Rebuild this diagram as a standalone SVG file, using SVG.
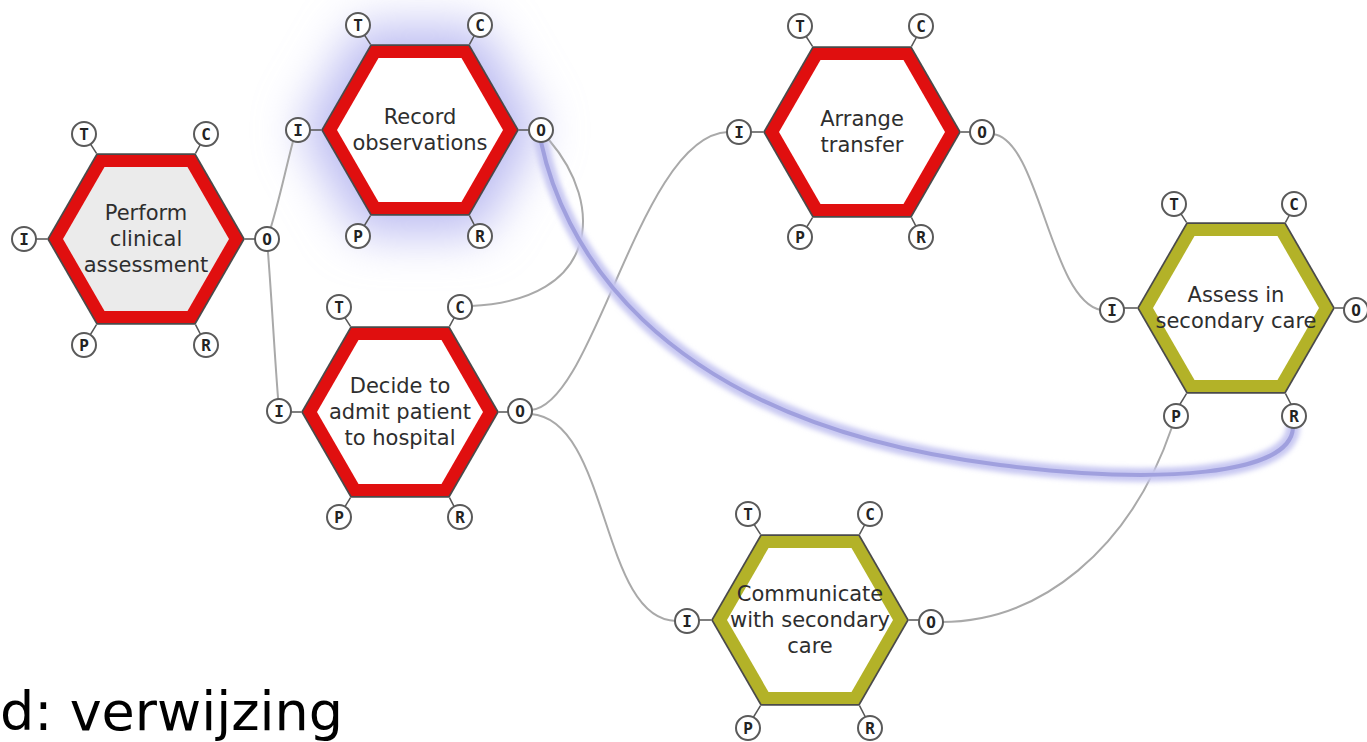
<svg xmlns="http://www.w3.org/2000/svg" xmlns:xlink="http://www.w3.org/1999/xlink" width="1367" height="742" viewBox="0 0 1367 742">
<style>
.hx-o{fill:#4a4a4a}
.hx-red{fill:#e00f0f}
.hx-olive{fill:#b3b228}
.hx-in{fill:#ffffff}
.hx-in-grey{fill:#ebebeb}
.lbl{font-family:"DejaVu Sans",sans-serif;font-size:21px;fill:#2e2e2e;text-anchor:middle}
.port circle{fill:#fff;stroke:#5a5a5a;stroke-width:2}
.port text{font-family:"DejaVu Sans Mono",monospace;font-size:16px;font-weight:bold;fill:#222;text-anchor:middle}
.stub{stroke:#555;stroke-width:1.5}
.conn{fill:none;stroke:#a9a9a9;stroke-width:2}
.blue-halo{fill:none;stroke:#c8c8f2;stroke-width:14;stroke-linecap:round}
.blue-core{fill:none;stroke:#a0a0de;stroke-width:4;stroke-linecap:round}
.caption{font-family:"DejaVu Sans",sans-serif;font-size:54px;fill:#000}
</style>
<defs>
<polygon id="hexO" points="99,0 49.5,85.7 -49.5,85.7 -99,0 -49.5,-85.7 49.5,-85.7"/>
<polygon id="hexM" points="97,0 48.5,84 -48.5,84 -97,0 -48.5,-84 48.5,-84"/>
<polygon id="hexI" points="83,0 41.5,71.9 -41.5,71.9 -83,0 -41.5,-71.9 41.5,-71.9"/>
<polygon id="hexG" points="120,0 60,104 -60,104 -120,0 -60,-104 60,-104"/>
<filter id="glow" x="-60%" y="-60%" width="220%" height="220%">
<feGaussianBlur stdDeviation="24"/>
</filter>
<filter id="soft" x="-10%" y="-10%" width="120%" height="120%">
<feGaussianBlur stdDeviation="2.5"/>
</filter>
<g id="stubs">
<line class="stub" x1="-62" y1="-105" x2="-49.5" y2="-85.7"/>
<line class="stub" x1="60" y1="-105" x2="49.5" y2="-85.7"/>
<line class="stub" x1="-122" y1="0" x2="-99" y2="0"/>
<line class="stub" x1="121" y1="0" x2="99" y2="0"/>
<line class="stub" x1="-62" y1="106" x2="-49.5" y2="85.7"/>
<line class="stub" x1="60" y1="106" x2="49.5" y2="85.7"/>
</g>
</defs>

<rect width="1367" height="742" fill="#ffffff"/>

<!-- glow behind Record observations -->
<use href="#hexG" x="420" y="130" fill="#bcbcf2" filter="url(#glow)"/>

<g id="connectors">
<path class="conn" d="M267,240 C280,200 285,170 296,130"/>
<path class="conn" d="M267,240 C272,300 274,350 279,410"/>
<path class="conn" d="M549,140 C605,205 600,300 471,306"/>
<path class="conn" d="M531,410 C595,405 640,135 728,132"/>
<path class="conn" d="M531,414 C610,420 600,620 676,621"/>
<path class="conn" d="M993,134 C1040,140 1050,300 1101,310"/>
<path class="conn" d="M941,622 C1040,622 1130,550 1172,427"/>
<g id="blue-link">
<path class="blue-halo" filter="url(#soft)" d="M541,142 C560,230 640,420 1000,465 C1160,485 1290,475 1293,428"/>
<path class="blue-core" d="M541,142 C560,230 640,420 1000,465 C1160,485 1290,475 1293,428"/>
</g>
</g>

<g id="node-perform">
<use href="#stubs" x="146" y="239"/>
<use href="#hexO" x="146" y="239" class="hx-o"/>
<use href="#hexM" x="146" y="239" class="hx-red"/>
<use href="#hexI" x="146" y="239" class="hx-in-grey"/>
<text class="lbl" x="146" y="220">Perform</text>
<text class="lbl" x="146" y="246">clinical</text>
<text class="lbl" x="146" y="272">assessment</text>
<g class="port"><circle cx="84" cy="134" r="12"/><text x="84" y="140">T</text></g>
<g class="port"><circle cx="206" cy="134" r="12"/><text x="206" y="140">C</text></g>
<g class="port"><circle cx="24" cy="239" r="12"/><text x="24" y="245">I</text></g>
<g class="port"><circle cx="267" cy="239" r="12"/><text x="267" y="245">O</text></g>
<g class="port"><circle cx="84" cy="345" r="12"/><text x="84" y="351">P</text></g>
<g class="port"><circle cx="206" cy="345" r="12"/><text x="206" y="351">R</text></g>
</g>

<g id="node-record">
<use href="#stubs" x="420" y="130"/>
<use href="#hexO" x="420" y="130" class="hx-o"/>
<use href="#hexM" x="420" y="130" class="hx-red"/>
<use href="#hexI" x="420" y="130" class="hx-in"/>
<text class="lbl" x="420" y="124">Record</text>
<text class="lbl" x="420" y="150">observations</text>
<g class="port"><circle cx="358" cy="25" r="12"/><text x="358" y="31">T</text></g>
<g class="port"><circle cx="480" cy="25" r="12"/><text x="480" y="31">C</text></g>
<g class="port"><circle cx="298" cy="130" r="12"/><text x="298" y="136">I</text></g>
<g class="port"><circle cx="541" cy="130" r="12"/><text x="541" y="136">O</text></g>
<g class="port"><circle cx="358" cy="236" r="12"/><text x="358" y="242">P</text></g>
<g class="port"><circle cx="480" cy="236" r="12"/><text x="480" y="242">R</text></g>
</g>

<g id="node-decide">
<use href="#stubs" x="400" y="412"/>
<use href="#hexO" x="400" y="412" class="hx-o"/>
<use href="#hexM" x="400" y="412" class="hx-red"/>
<use href="#hexI" x="400" y="412" class="hx-in"/>
<text class="lbl" x="400" y="393">Decide to</text>
<text class="lbl" x="400" y="419">admit patient</text>
<text class="lbl" x="400" y="445">to hospital</text>
<g class="port"><circle cx="339" cy="307" r="12"/><text x="339" y="313">T</text></g>
<g class="port"><circle cx="460" cy="307" r="12"/><text x="460" y="313">C</text></g>
<g class="port"><circle cx="279" cy="411" r="12"/><text x="279" y="417">I</text></g>
<g class="port"><circle cx="520" cy="411" r="12"/><text x="520" y="417">O</text></g>
<g class="port"><circle cx="339" cy="517" r="12"/><text x="339" y="523">P</text></g>
<g class="port"><circle cx="460" cy="517" r="12"/><text x="460" y="523">R</text></g>
</g>

<g id="node-arrange">
<use href="#stubs" x="862" y="132"/>
<use href="#hexO" x="862" y="132" class="hx-o"/>
<use href="#hexM" x="862" y="132" class="hx-red"/>
<use href="#hexI" x="862" y="132" class="hx-in"/>
<text class="lbl" x="862" y="126">Arrange</text>
<text class="lbl" x="862" y="152">transfer</text>
<g class="port"><circle cx="800" cy="26" r="12"/><text x="800" y="32">T</text></g>
<g class="port"><circle cx="921" cy="26" r="12"/><text x="921" y="32">C</text></g>
<g class="port"><circle cx="739" cy="132" r="12"/><text x="739" y="138">I</text></g>
<g class="port"><circle cx="982" cy="132" r="12"/><text x="982" y="138">O</text></g>
<g class="port"><circle cx="800" cy="237" r="12"/><text x="800" y="243">P</text></g>
<g class="port"><circle cx="921" cy="237" r="12"/><text x="921" y="243">R</text></g>
</g>

<g id="node-assess">
<use href="#stubs" x="1236" y="308"/>
<use href="#hexO" x="1236" y="308" class="hx-o"/>
<use href="#hexM" x="1236" y="308" class="hx-olive"/>
<use href="#hexI" x="1236" y="308" class="hx-in"/>
<text class="lbl" x="1236" y="302">Assess in</text>
<text class="lbl" x="1236" y="328">secondary care</text>
<g class="port"><circle cx="1174" cy="204" r="12"/><text x="1174" y="210">T</text></g>
<g class="port"><circle cx="1294" cy="204" r="12"/><text x="1294" y="210">C</text></g>
<g class="port"><circle cx="1112" cy="310" r="12"/><text x="1112" y="316">I</text></g>
<g class="port"><circle cx="1356" cy="310" r="12"/><text x="1356" y="316">O</text></g>
<g class="port"><circle cx="1176" cy="416" r="12"/><text x="1176" y="422">P</text></g>
<g class="port"><circle cx="1294" cy="416" r="12"/><text x="1294" y="422">R</text></g>
</g>

<g id="node-communicate">
<use href="#stubs" x="810" y="620"/>
<use href="#hexO" x="810" y="620" class="hx-o"/>
<use href="#hexM" x="810" y="620" class="hx-olive"/>
<use href="#hexI" x="810" y="620" class="hx-in"/>
<text class="lbl" x="810" y="601">Communicate</text>
<text class="lbl" x="810" y="627">with secondary</text>
<text class="lbl" x="810" y="653">care</text>
<g class="port"><circle cx="748" cy="514" r="12"/><text x="748" y="520">T</text></g>
<g class="port"><circle cx="870" cy="514" r="12"/><text x="870" y="520">C</text></g>
<g class="port"><circle cx="687" cy="621" r="12"/><text x="687" y="627">I</text></g>
<g class="port"><circle cx="931" cy="622" r="12"/><text x="931" y="628">O</text></g>
<g class="port"><circle cx="748" cy="728" r="12"/><text x="748" y="734">P</text></g>
<g class="port"><circle cx="870" cy="728" r="12"/><text x="870" y="734">R</text></g>
</g>

<text class="caption" x="0" y="730">d: verwijzing</text>
</svg>
